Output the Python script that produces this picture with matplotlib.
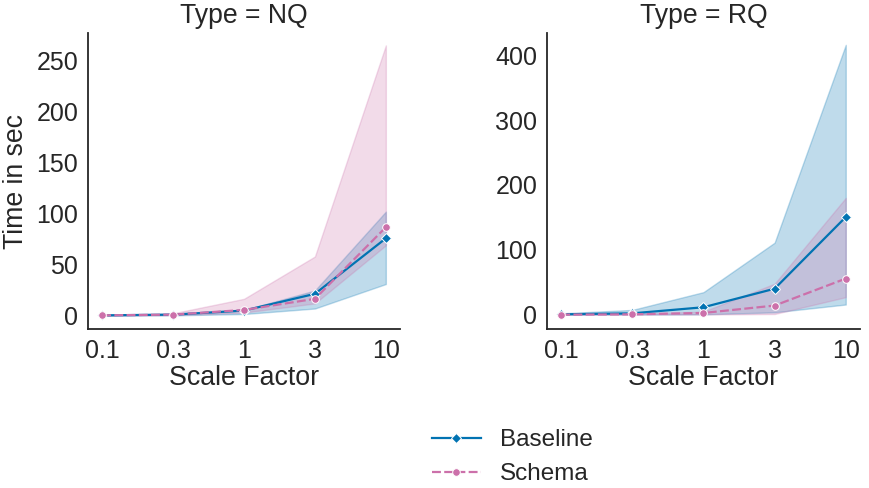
import matplotlib.pyplot as plt

plt.rcParams['font.family'] = ['Liberation Sans', 'DejaVu Sans']
plt.rcParams['text.color'] = '#262626'
plt.rcParams['axes.labelcolor'] = '#262626'
plt.rcParams['xtick.color'] = '#262626'
plt.rcParams['ytick.color'] = '#262626'

escalas = ["0.1", "0.3", "1", "3", "10"]
tipos = ["NQ", "RQ"]

# medias y bandas de confianza por tipo
baseline_nq = [0.3, 1.0, 5.0, 21.4, 75.8]
baseline_nq_lo = [0.0, 0.3, 1.6, 7.0, 31.0]
baseline_nq_hi = [0.6, 1.6, 5.5, 24.7, 102.0]
schema_nq = [0.3, 1.0, 5.6, 16.5, 86.7]
schema_nq_lo = [0.0, 0.5, 3.0, 12.0, 69.0]
schema_nq_hi = [0.6, 2.3, 16.5, 58.0, 265.0]

baseline_rq = [0.5, 2.0, 11.4, 40.0, 150.5]
baseline_rq_lo = [0.0, 0.2, 0.5, 3.6, 15.6]
baseline_rq_hi = [2.0, 7.3, 34.7, 111.0, 416.0]
schema_rq = [0.0, 0.5, 2.6, 14.0, 55.6]
schema_rq_lo = [0.0, 0.0, 0.3, 1.0, 27.0]
schema_rq_hi = [0.5, 1.5, 4.7, 47.7, 180.0]

datos = {
    "NQ": [(baseline_nq, baseline_nq_lo, baseline_nq_hi), (schema_nq, schema_nq_lo, schema_nq_hi)],
    "RQ": [(baseline_rq, baseline_rq_lo, baseline_rq_hi), (schema_rq, schema_rq_lo, schema_rq_hi)],
}
limites = {"NQ": (-13, 277, range(0, 251, 50)), "RQ": (-22, 434, range(0, 401, 100))}

series = ["Baseline", "Schema"]
colores = ["#0173b2", "#cc70aa"]
marcadores = ["D", "o"]
estilos = [(None, None), (4, 1.5)]

fig = plt.figure(figsize=(8.7, 4.88), dpi=100)
ax1 = fig.add_axes([0.1011, 0.326, 0.3587, 0.606])
ax2 = fig.add_axes([0.6287, 0.326, 0.3598, 0.606])

x = list(range(len(escalas)))
for ax, tipo in zip([ax1, ax2], tipos):
    for (media, lo, hi), nombre, c, m, ds in zip(datos[tipo], series, colores, marcadores, estilos):
        ax.fill_between(x, lo, hi, color=c, alpha=0.25, linewidth=1)
        linea, = ax.plot(x, media, color=c, marker=m, markersize=5.5,
                         markeredgecolor="white", markeredgewidth=0.7, linewidth=1.6, label=nombre)
        if ds[0] is not None:
            linea.set_dashes(ds)
    lo_y, hi_y, ticks = limites[tipo]
    ax.set_ylim(lo_y, hi_y)
    ax.set_yticks(list(ticks))
    ax.set_xlim(-0.2, 4.2)
    ax.set_xticks(x)
    ax.set_xticklabels(escalas)
    ax.tick_params(labelsize=18, length=0, pad=7)
    ax.set_xlabel("Scale Factor", fontsize=19.3, labelpad=2)
    ax.set_title(f"Type = {tipo}", fontsize=19.2, pad=7)
    for lado in ["top", "right"]:
        ax.spines[lado].set_visible(False)
    for lado in ["left", "bottom"]:
        ax.spines[lado].set_color("#262626")
        ax.spines[lado].set_linewidth(1.3)

ax1.set_ylabel("Time in sec", fontsize=19.2, labelpad=5)

handles, labels = ax1.get_legend_handles_labels()
fig.legend(handles, labels, loc="upper left", bbox_to_anchor=(432 / 870, 1 - 429 / 488),
           frameon=False, fontsize=17.5, borderpad=0, borderaxespad=0, labelspacing=0.5)

plt.savefig("out.png", dpi=100)
